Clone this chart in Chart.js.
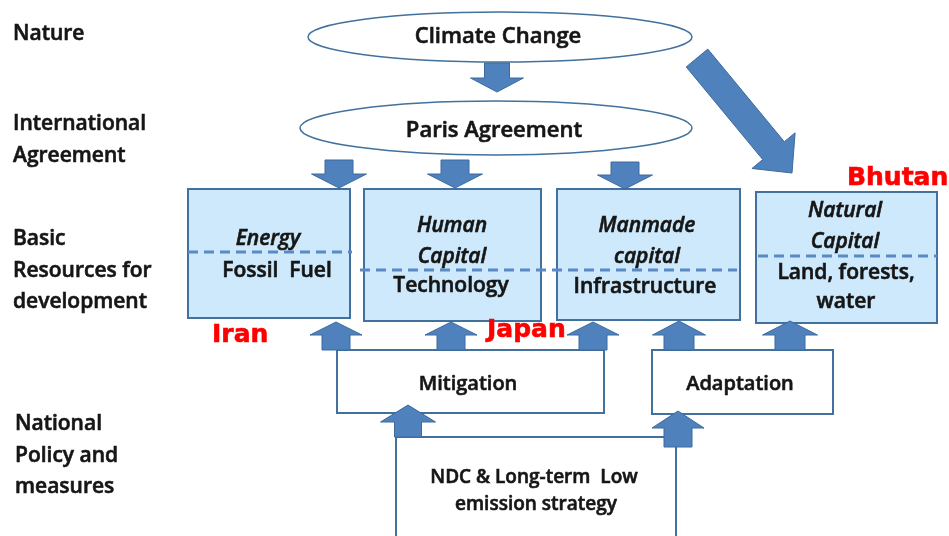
<!DOCTYPE html>
<html>
<head>
<meta charset="utf-8">
<script src="https://cdn.jsdelivr.net/npm/chart.js@4.4.0/dist/chart.umd.min.js"></script>
<style>
  html, body { margin: 0; padding: 0; background: #fff; }
  #diagram { display: block; }
</style>
</head>
<body>
<canvas id="diagram" width="949" height="536"></canvas>
<script>
// diagram text
const rowLabels = [["Nature"], ["International", "Agreement"], ["Basic", "Resources for", "development"], ["National", "Policy and", "measures"]];
const ovalLabels = ["Climate Change", "Paris Agreement"];
const resourceTitles = [["Energy"], ["Human", "Capital"], ["Manmade", "capital"], ["Natural", "Capital"]];
const resourceItems = [["Fossil  Fuel"], ["Technology"], ["Infrastructure"], ["Land, forests,", "water"]];
const policyLabels = ["Mitigation", "Adaptation"];
const strategyLabel = ["NDC & Long-term  Low", "emission strategy"];
const countryLabels = ["Iran", "Japan", "Bhutan"];

// layout, in diagram units (x 0..949, y 0..536 from top)
const rowPos = [[13, 40], [13, 130], [13, 245], [15, 430]];
const ovalPos = [[500, 37, 192, 25, 498, 43], [496, 128, 196, 27, 494, 137]];
const resourceBoxes = [[188, 189, 350, 318], [364, 189, 541, 321], [557, 189, 740, 320], [756, 192, 937, 323]];
const titlePos = [[268, 245], [452, 232], [647, 232], [845, 217]];
const itemPos = [[277, 277], [451, 292], [645, 293], [846, 279]];
const dashLines = [[188, 252, 352], [360, 270, 737], [758, 256, 937]];
const policyBoxes = [[337, 350, 604, 413], [652, 350, 833, 414]];
const policyText = [[468, 390], [740, 390]];
const strategyText = [[534, 483], [536, 510]];
const countryPos = [[212, 342], [487, 337], [847, 185]];
// [fromX, fromY, tipX, tipY, shaft, head, headLength]
const arrows = [
  [497, 63, 497, 92, 25, 53, 14],
  [339, 160, 339, 188, 28, 55, 14],
  [455, 160, 455, 188, 28, 55, 14],
  [625, 162, 625, 189, 28, 55, 14],
  [697, 58, 792, 173, 28, 56, 29],
  [336, 350, 336, 322, 28, 52, 13],
  [451, 350, 451, 322, 28, 52, 13],
  [593, 350, 593, 322, 28, 52, 13],
  [679, 350, 679, 321, 30, 53, 14],
  [790, 350, 790, 321, 30, 55, 14],
  [408, 437, 408, 405, 27, 55, 17],
  [678, 447, 678, 411, 28, 52, 17]
];

const INK = '#161616';
const EDGE = '#41719c';
const FONT = '"Open Sans", "DejaVu Sans", sans-serif';

function blockArrow(ctx, X, Y, a) {
  const x0 = X(a[0]), y0 = Y(a[1]), x1 = X(a[2]), y1 = Y(a[3]);
  const sw = a[4] / 2, hw = a[5] / 2, hl = a[6];
  const len = Math.hypot(x1 - x0, y1 - y0);
  const ux = (x1 - x0) / len, uy = (y1 - y0) / len;
  const nx = -uy, ny = ux;
  const bx = x1 - ux * hl, by = y1 - uy * hl;
  ctx.beginPath();
  ctx.moveTo(x0 + nx * sw, y0 + ny * sw);
  ctx.lineTo(bx + nx * sw, by + ny * sw);
  ctx.lineTo(bx + nx * hw, by + ny * hw);
  ctx.lineTo(x1, y1);
  ctx.lineTo(bx - nx * hw, by - ny * hw);
  ctx.lineTo(bx - nx * sw, by - ny * sw);
  ctx.lineTo(x0 - nx * sw, y0 - ny * sw);
  ctx.closePath();
  ctx.fillStyle = '#4f81bd';
  ctx.fill();
  ctx.strokeStyle = '#3d6a9c';
  ctx.lineWidth = 1;
  ctx.stroke();
}

// text with a thin outline to get the heavier look of the original
function text(ctx, str, x, y, font, align, color) {
  ctx.font = font;
  ctx.textAlign = align;
  ctx.textBaseline = 'alphabetic';
  ctx.fillStyle = color || INK;
  ctx.fillText(str, x, y);
  ctx.strokeStyle = color || INK;
  ctx.lineWidth = 0.6;
  ctx.strokeText(str, x, y);
}

const diagramPlugin = {
  id: 'diagram',
  afterDraw(chart) {
    const ctx = chart.ctx;
    const sx = chart.scales.x, sy = chart.scales.y;
    const X = v => sx.getPixelForValue(v);
    const Y = v => sy.getPixelForValue(v);
    ctx.save();

    // ovals
    ovalPos.forEach((o, i) => {
      ctx.beginPath();
      ctx.ellipse(X(o[0]), Y(o[1]), o[2], o[3], 0, 0, Math.PI * 2);
      ctx.fillStyle = '#fff';
      ctx.fill();
      ctx.strokeStyle = EDGE;
      ctx.lineWidth = 1.5;
      ctx.stroke();
      text(ctx, ovalLabels[i], X(o[4]), Y(o[5]), '600 22px ' + FONT, 'center');
    });

    // resource boxes
    resourceBoxes.forEach(b => {
      ctx.fillStyle = '#cde9fb';
      ctx.fillRect(X(b[0]), Y(b[1]), X(b[2]) - X(b[0]), Y(b[3]) - Y(b[1]));
      ctx.strokeStyle = EDGE;
      ctx.lineWidth = 2;
      ctx.strokeRect(X(b[0]), Y(b[1]), X(b[2]) - X(b[0]), Y(b[3]) - Y(b[1]));
    });

    // policy boxes
    policyBoxes.forEach((b, i) => {
      ctx.fillStyle = '#fff';
      ctx.fillRect(X(b[0]), Y(b[1]), X(b[2]) - X(b[0]), Y(b[3]) - Y(b[1]));
      ctx.strokeStyle = EDGE;
      ctx.lineWidth = 2;
      ctx.strokeRect(X(b[0]), Y(b[1]), X(b[2]) - X(b[0]), Y(b[3]) - Y(b[1]));
      text(ctx, policyLabels[i], X(policyText[i][0]), Y(policyText[i][1]), '600 20px ' + FONT, 'center');
    });

    // strategy box, open at the bottom
    ctx.beginPath();
    ctx.moveTo(X(396), Y(540));
    ctx.lineTo(X(396), Y(437));
    ctx.lineTo(X(676), Y(437));
    ctx.lineTo(X(676), Y(540));
    ctx.strokeStyle = EDGE;
    ctx.lineWidth = 2;
    ctx.stroke();
    strategyLabel.forEach((s, i) => {
      text(ctx, s, X(strategyText[i][0]), Y(strategyText[i][1]), '600 19px ' + FONT, 'center');
    });

    // dashed dividers
    ctx.setLineDash([10, 6]);
    ctx.strokeStyle = '#5a8ac6';
    ctx.lineWidth = 3;
    dashLines.forEach(d => {
      ctx.beginPath();
      ctx.moveTo(X(d[0]), Y(d[1]));
      ctx.lineTo(X(d[2]), Y(d[1]));
      ctx.stroke();
    });
    ctx.setLineDash([]);

    arrows.forEach(a => blockArrow(ctx, X, Y, a));

    // box texts
    resourceTitles.forEach((lines, i) => {
      lines.forEach((s, j) => {
        text(ctx, s, X(titlePos[i][0]), Y(titlePos[i][1] + j * 31), 'italic 600 21px ' + FONT, 'center');
      });
    });
    resourceItems.forEach((lines, i) => {
      lines.forEach((s, j) => {
        text(ctx, s, X(itemPos[i][0]), Y(itemPos[i][1] + j * 29), '600 21px ' + FONT, 'center');
      });
    });

    // row labels
    rowLabels.forEach((lines, i) => {
      lines.forEach((s, j) => {
        text(ctx, s, X(rowPos[i][0]), Y(rowPos[i][1] + j * 31.5), '600 21px ' + FONT, 'left');
      });
    });

    // countries
    countryLabels.forEach((s, i) => {
      text(ctx, s, X(countryPos[i][0]), Y(countryPos[i][1]), 'bold 25px "DejaVu Sans", sans-serif', 'left', '#ff0000');
    });

    ctx.restore();
  }
};

new Chart(document.getElementById('diagram'), {
  type: 'scatter',
  data: { datasets: [] },
  options: {
    responsive: false,
    animation: false,
    events: [],
    layout: { padding: 0 },
    plugins: { legend: { display: false }, tooltip: { enabled: false } },
    scales: {
      x: { type: 'linear', min: 0, max: 949, display: false },
      y: { type: 'linear', min: 0, max: 536, reverse: true, display: false }
    }
  },
  plugins: [diagramPlugin]
});
</script>
</body>
</html>
